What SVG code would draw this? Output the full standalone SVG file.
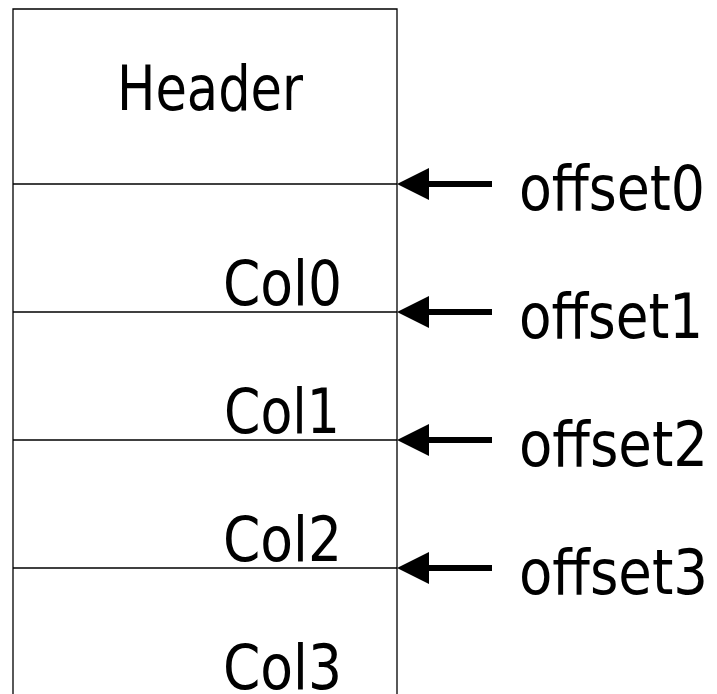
<svg xmlns="http://www.w3.org/2000/svg" width="717" height="694" viewBox="0 0 717 694">
  <style>
    .frame { fill: none; stroke: #000; stroke-width: 1.3; }
    .sep { stroke: #000; stroke-width: 1.3; }
    .shaft { stroke: #000; stroke-width: 6; }
    .head { fill: #000; }
    text { font-family: "DejaVu Sans Condensed", "DejaVu Sans", sans-serif; font-size: 62px; fill: #000; }
  </style>
  <rect width="717" height="694" fill="#fff"/>

  <!-- record layout: header followed by column slots -->
  <g id="record">
    <path class="frame" d="M13 700 V9 H397 V700"/>
  </g>
  <g id="header">
    <text x="117" y="110" textLength="186" lengthAdjust="spacingAndGlyphs">Header</text>
  </g>
  <g id="col0">
    <line class="sep" x1="13" y1="184" x2="397" y2="184"/>
    <text x="223" y="305" textLength="119" lengthAdjust="spacingAndGlyphs">Col0</text>
  </g>
  <g id="col1">
    <line class="sep" x1="13" y1="312" x2="397" y2="312"/>
    <text x="224" y="433" textLength="116" lengthAdjust="spacingAndGlyphs">Col1</text>
  </g>
  <g id="col2">
    <line class="sep" x1="13" y1="440" x2="397" y2="440"/>
    <text x="223" y="561" textLength="119" lengthAdjust="spacingAndGlyphs">Col2</text>
  </g>
  <g id="col3">
    <line class="sep" x1="13" y1="568" x2="397" y2="568"/>
    <text x="223" y="689" textLength="119" lengthAdjust="spacingAndGlyphs">Col3</text>
  </g>

  <!-- offset labels -->
  <g id="offset0"><text x="519" y="210" textLength="186" lengthAdjust="spacingAndGlyphs">offset0</text></g>
  <g id="offset1"><text x="519" y="338" textLength="184" lengthAdjust="spacingAndGlyphs">offset1</text></g>
  <g id="offset2"><text x="519" y="466" textLength="189" lengthAdjust="spacingAndGlyphs">offset2</text></g>
  <g id="offset3"><text x="519" y="594" textLength="189" lengthAdjust="spacingAndGlyphs">offset3</text></g>

  <!-- pointers from each offset to its column boundary -->
  <g id="connectors">
    <g transform="translate(0,184)">
      <line class="shaft" x1="492" y1="0" x2="426" y2="0"/>
      <path class="head" d="M397 0 L429 -16 L429 16 Z"/>
    </g>
    <g transform="translate(0,312)">
      <line class="shaft" x1="492" y1="0" x2="426" y2="0"/>
      <path class="head" d="M397 0 L429 -16 L429 16 Z"/>
    </g>
    <g transform="translate(0,440)">
      <line class="shaft" x1="492" y1="0" x2="426" y2="0"/>
      <path class="head" d="M397 0 L429 -16 L429 16 Z"/>
    </g>
    <g transform="translate(0,568)">
      <line class="shaft" x1="492" y1="0" x2="426" y2="0"/>
      <path class="head" d="M397 0 L429 -16 L429 16 Z"/>
    </g>
  </g>
</svg>
